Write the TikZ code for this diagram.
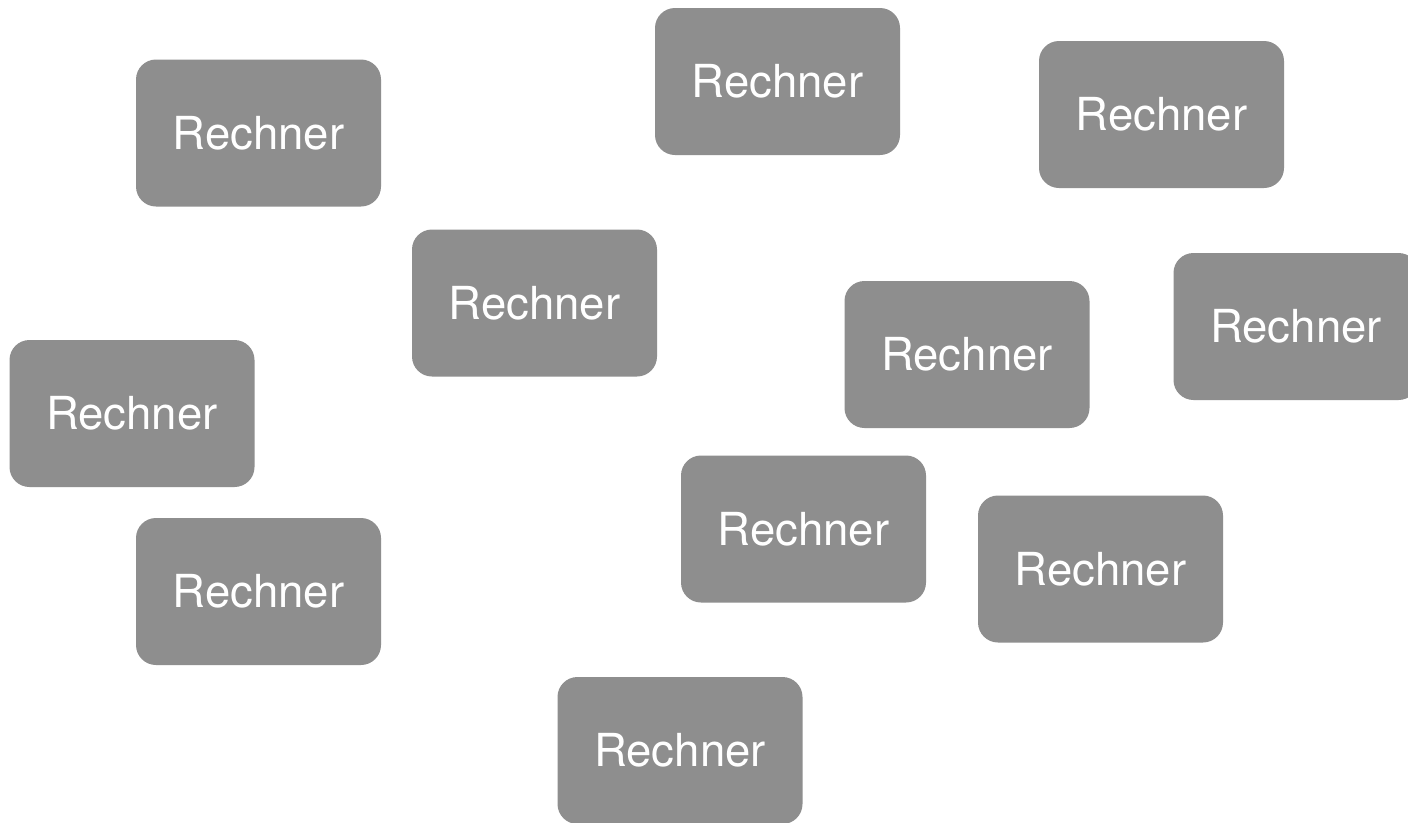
\documentclass[tikz,border=0pt]{standalone}
\usepackage{fontspec}
\setmainfont{TeX Gyre Heros}
\usepackage{tikz}

\definecolor{boxgray}{RGB}{142,142,142}

\begin{document}
\begin{tikzpicture}[x=1pt,y=-1pt,
    rechner/.style={fill=boxgray,rounded corners=20pt,minimum width=245pt,minimum height=147pt,
      text=white,font=\fontsize{45.5}{50}\selectfont,inner sep=0pt}]
    \clip (0,0) rectangle (1408,822);
    \fill[white] (0,0) rectangle (1408,822);
    \node[rechner] (r1) at (258.5,133) {Rechner};
    \node[rechner] (r2) at (777.5,81.5) {Rechner};
    \node[rechner] (r3) at (1161.5,114.5) {Rechner};
    \node[rechner] (r4) at (534.5,303) {Rechner};
    \node[rechner] (r5) at (967,354.5) {Rechner};
    \node[rechner] (r6) at (1296,326.5) {Rechner};
    \node[rechner] (r7) at (132,413.5) {Rechner};
    \node[rechner] (r8) at (258.5,591.5) {Rechner};
    \node[rechner] (r9) at (803.5,529) {Rechner};
    \node[rechner] (r10) at (1100.5,569) {Rechner};
    \node[rechner] (r11) at (680,750.5) {Rechner};
  \end{tikzpicture}
\end{document}
